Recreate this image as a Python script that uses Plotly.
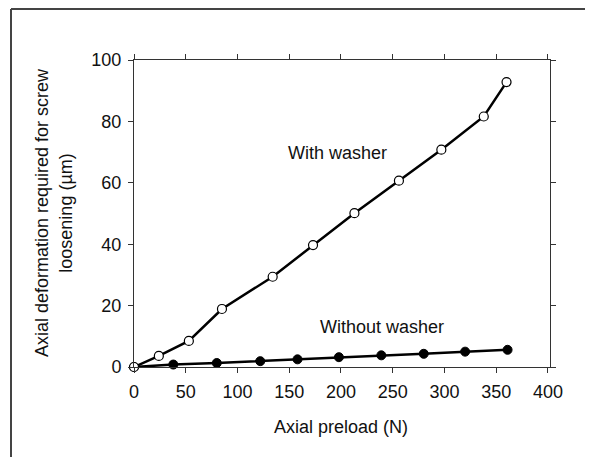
import plotly.graph_objects as go

preload_with = [0, 24, 53, 85, 134, 173, 213, 256, 297, 338, 360]
deform_with = [0, 3.6, 8.5, 18.9, 29.4, 39.7, 50.1, 60.7, 70.8, 81.6, 92.8]

preload_without = [0, 38, 80, 122, 158, 198, 239, 280, 320, 361]
deform_without = [0, 0.8, 1.3, 1.9, 2.5, 3.2, 3.8, 4.3, 5.0, 5.6]

x_ticks = [0, 50, 100, 150, 200, 250, 300, 350, 400]
y_ticks = [0, 20, 40, 60, 80, 100]

FONT = "Liberation Sans, Arial, sans-serif"

# page body has an 8px margin; plot area in figure coords
L, T, W, H = 126, 52, 416, 307
B = T + H

fig = go.Figure()
fig.add_trace(go.Scatter(
    x=preload_without, y=deform_without, mode="lines+markers",
    line=dict(color="black", width=2.5),
    marker=dict(symbol="circle", size=9, color="black", line=dict(color="black", width=1)),
    showlegend=False, cliponaxis=False))
fig.add_trace(go.Scatter(
    x=preload_with, y=deform_with, mode="lines+markers",
    line=dict(color="black", width=2.5),
    marker=dict(symbol="circle", size=9, color="white", line=dict(color="black", width=1.2)),
    showlegend=False, cliponaxis=False))

axis_common = dict(
    showline=True, linecolor="#333", linewidth=1, mirror="ticks",
    ticks="outside", ticklen=5, tickcolor="#333", tickwidth=1,
    showgrid=False, zeroline=False, ticklabelstandoff=3,
    tickfont=dict(family=FONT, size=18, color="#111"),
)

fig.update_layout(
    width=593, height=457,
    margin=dict(l=L, r=593 - L - W, t=T, b=457 - B),
    paper_bgcolor="white", plot_bgcolor="white",
    font=dict(family=FONT, size=18, color="#111"),
    xaxis=dict(range=[0, 402], tickvals=x_ticks, **axis_common),
    yaxis=dict(range=[0, 100], tickvals=y_ticks, **axis_common),
    annotations=[
        dict(text="With washer", x=196.5, y=69.6, xref="x", yref="y",
             showarrow=False, font=dict(size=18)),
        dict(text="Without washer", x=240, y=13.0, xref="x", yref="y",
             showarrow=False, font=dict(size=18)),
        dict(text="Axial preload (N)", x=0.498, y=-0.194, xref="paper", yref="paper",
             showarrow=False, yanchor="middle", xanchor="center", font=dict(size=18)),
        dict(text="Axial deformation required for screw<br>loosening (µm)",
             x=-0.192, y=0.502, xref="paper", yref="paper", textangle=-90,
             showarrow=False, xanchor="center", yanchor="middle", font=dict(size=18)),
    ],
    shapes=[
        dict(type="line", xref="paper", yref="paper",
             x0=(3 - L) / W, x1=(600 - L) / W,
             y0=(B - 1) / H, y1=(B - 1) / H,
             line=dict(color="#444", width=2)),
        dict(type="line", xref="paper", yref="paper",
             x0=(3 - L) / W, x1=(3 - L) / W,
             y0=(B - 1) / H, y1=(B - 470) / H,
             line=dict(color="#444", width=2)),
    ],
)

fig.write_html("out.html")
